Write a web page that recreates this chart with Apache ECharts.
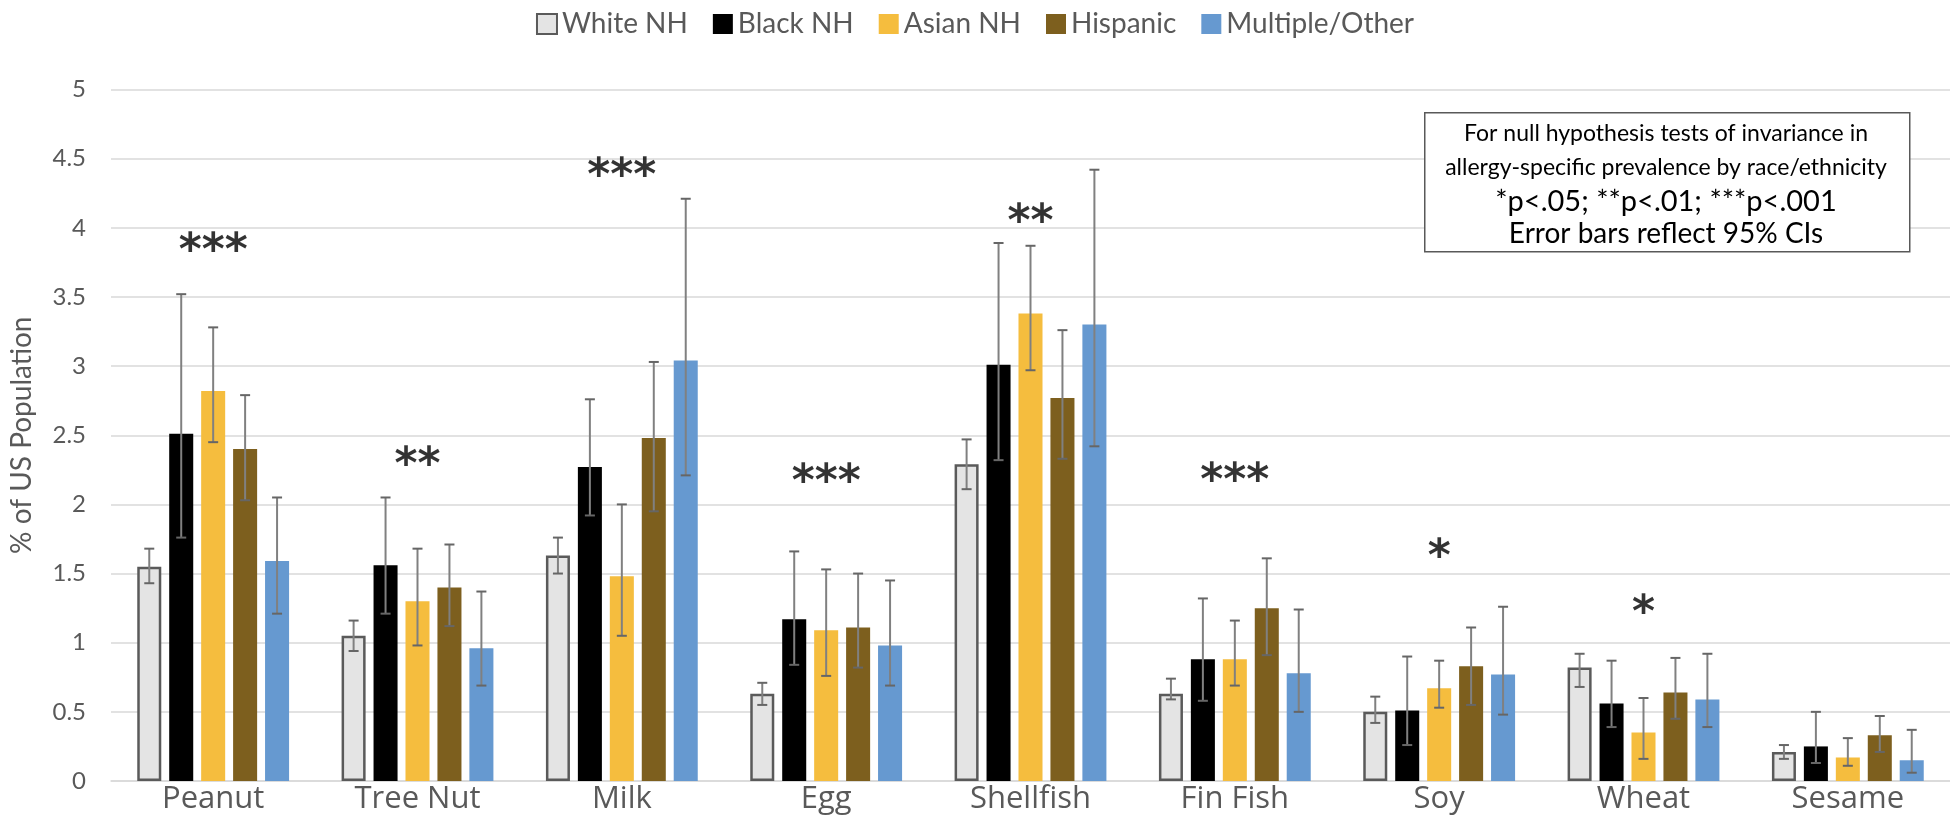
<!DOCTYPE html>
<html>
<head>
<meta charset="utf-8">
<script src="https://cdn.jsdelivr.net/npm/echarts@6/dist/echarts.min.js"></script>
<style>
html,body{margin:0;padding:0;background:#fff;overflow:hidden;}
#chart{width:1950px;height:819px;}
</style>
</head>
<body>
<div id="chart"></div>
<script>
const categories = ['Peanut','Tree Nut','Milk','Egg','Shellfish','Fin Fish','Soy','Wheat','Sesame'];
const groups = ['White NH','Black NH','Asian NH','Hispanic','Multiple/Other'];

const whiteNH  = [1.55, 1.05, 1.63, 0.63, 2.29, 0.63, 0.50, 0.82, 0.21];
const blackNH  = [2.51, 1.56, 2.27, 1.17, 3.01, 0.88, 0.51, 0.56, 0.25];
const asianNH  = [2.82, 1.30, 1.48, 1.09, 3.38, 0.88, 0.67, 0.35, 0.17];
const hispanic = [2.40, 1.40, 2.48, 1.11, 2.77, 1.25, 0.83, 0.64, 0.33];
const multiple = [1.59, 0.96, 3.04, 0.98, 3.30, 0.78, 0.77, 0.59, 0.15];

const whiteLow  = [1.43, 0.94, 1.50, 0.55, 2.11, 0.59, 0.42, 0.68, 0.16];
const whiteHigh = [1.68, 1.16, 1.76, 0.71, 2.47, 0.74, 0.61, 0.92, 0.26];
const blackLow  = [1.76, 1.21, 1.92, 0.84, 2.32, 0.58, 0.26, 0.39, 0.13];
const blackHigh = [3.52, 2.05, 2.76, 1.66, 3.89, 1.32, 0.90, 0.87, 0.50];
const asianLow  = [2.45, 0.98, 1.05, 0.76, 2.97, 0.69, 0.53, 0.16, 0.11];
const asianHigh = [3.28, 1.68, 2.00, 1.53, 3.87, 1.16, 0.87, 0.60, 0.31];
const hispLow   = [2.03, 1.12, 1.95, 0.82, 2.33, 0.91, 0.55, 0.45, 0.21];
const hispHigh  = [2.79, 1.71, 3.03, 1.50, 3.26, 1.61, 1.11, 0.89, 0.47];
const multLow   = [1.21, 0.69, 2.21, 0.69, 2.42, 0.50, 0.48, 0.39, 0.06];
const multHigh  = [2.05, 1.37, 4.21, 1.45, 4.42, 1.24, 1.26, 0.92, 0.37];

const stars = ['***','**','***','***','**','***','*','*',''];
const starY = [3.82, 2.27, 4.36, 2.15, 4.03, 2.16, 1.61, 1.20, 0];

const yTicks = [0, 0.5, 1, 1.5, 2, 2.5, 3, 3.5, 4, 4.5, 5];

const noteLines = [
  'For null hypothesis tests of invariance in',
  'allergy-specific prevalence by race/ethnicity',
  '*p<.05; **p<.01; ***p<.001',
  'Error bars reflect 95% CIs'
];

const values = [whiteNH, blackNH, asianNH, hispanic, multiple];
const lows = [whiteLow, blackLow, asianLow, hispLow, multLow];
const highs = [whiteHigh, blackHigh, asianHigh, hispHigh, multHigh];
const colors = ['#e4e4e4', '#000000', '#f5bd3e', '#7d5f1e', '#6699d0'];

const CAT_GAP = 0.257, BAR_GAP = 0.33, N = groups.length;
const FONT = 'Lato, "Open Sans", sans-serif';

const series = [];
groups.forEach((g, k) => {
  series.push({
    name: g,
    type: 'bar',
    data: values[k],
    barCategoryGap: (CAT_GAP * 100) + '%',
    barGap: (BAR_GAP * 100) + '%',
    itemStyle: k === 0 ? {color: colors[0], borderColor: '#5a5a5a', borderWidth: 2.5} : {color: colors[k]},
    z: 2
  });
});
groups.forEach((g, k) => {
  series.push({
    type: 'custom',
    name: g + ' CI',
    data: categories.map((c, i) => [i, lows[k][i], highs[k][i]]),
    z: 5,
    silent: true,
    renderItem: function (params, api) {
      const ci = api.value(0);
      const lo = api.coord([ci, api.value(1)]);
      const hi = api.coord([ci, api.value(2)]);
      const band = api.size([1, 0])[0];
      const w = band * (1 - CAT_GAP) / (N + (N - 1) * BAR_GAP);
      const groupW = N * w + (N - 1) * BAR_GAP * w;
      const x = lo[0] - groupW / 2 + k * w * (1 + BAR_GAP) + w / 2;
      const cap = 5;
      const st = {stroke: '#808080', lineWidth: 2};
      const cs = {stroke: '#666666', lineWidth: 2};
      return {
        type: 'group',
        children: [
          {type: 'line', shape: {x1: x, y1: lo[1], x2: x, y2: hi[1]}, style: st},
          {type: 'line', shape: {x1: x - cap, y1: lo[1], x2: x + cap, y2: lo[1]}, style: cs},
          {type: 'line', shape: {x1: x - cap, y1: hi[1], x2: x + cap, y2: hi[1]}, style: cs}
        ]
      };
    }
  });
});
series.push({
  type: 'scatter',
  name: 'sig',
  symbolSize: 0,
  silent: true,
  z: 6,
  data: categories.map((c, i) => ({value: [i, starY[i]], label: {formatter: stars[i]}})).filter((d, i) => stars[i] !== ''),
  label: {
    show: true,
    position: 'inside',
    color: '#000',
    fontSize: 44,
    fontWeight: 'bold',
    fontFamily: '"DejaVu Sans", sans-serif'
  }
});

const chart = echarts.init(document.getElementById('chart'), null, {renderer: 'canvas'});
chart.setOption({
  animation: false,
  backgroundColor: '#ffffff',
  legend: {
    data: groups,
    top: 5,
    left: 'center',
    icon: 'rect',
    itemWidth: 20,
    itemHeight: 20,
    itemGap: 25,
    textStyle: {fontSize: 28, color: '#595959', fontFamily: FONT}
  },
  grid: {left: 110, width: 1854, top: 89.5, bottom: 38},
  xAxis: {
    type: 'category',
    data: categories,
    axisTick: {show: false},
    axisLine: {lineStyle: {color: '#d9d9d9', width: 1.5}},
    axisLabel: {fontSize: 31, color: '#595959', margin: 3, fontFamily: '"Open Sans", Lato, sans-serif'}
  },
  yAxis: {
    type: 'value',
    min: yTicks[0],
    max: yTicks[yTicks.length - 1],
    interval: yTicks[1] - yTicks[0],
    name: '% of US Population',
    nameLocation: 'middle',
    nameGap: 75,
    nameTextStyle: {fontSize: 28, color: '#595959', fontFamily: FONT},
    axisLine: {show: false},
    axisTick: {show: false},
    axisLabel: {fontSize: 24, color: '#595959', margin: 25, fontFamily: FONT},
    splitLine: {lineStyle: {color: '#d9d9d9', width: 1.5}}
  },
  graphic: [
    {type: 'rect', left: 1424, top: 112, shape: {width: 485, height: 139}, style: {fill: '#fff', stroke: '#595959', lineWidth: 1.5}, z: 10},
    {type: 'text', x: 1666, y: 134, style: {text: noteLines[0], fontSize: 23, fill: '#000', fontFamily: FONT, textAlign: 'center', textVerticalAlign: 'middle'}, z: 11},
    {type: 'text', x: 1666, y: 168, style: {text: noteLines[1], fontSize: 23, fill: '#000', fontFamily: FONT, textAlign: 'center', textVerticalAlign: 'middle'}, z: 11},
    {type: 'text', x: 1666, y: 202, style: {text: noteLines[2], fontSize: 29, fill: '#000', fontFamily: FONT, textAlign: 'center', textVerticalAlign: 'middle'}, z: 11},
    {type: 'text', x: 1666, y: 234, style: {text: noteLines[3], fontSize: 28, fill: '#000', fontFamily: FONT, textAlign: 'center', textVerticalAlign: 'middle'}, z: 11}
  ],
  series: series
});
</script>
</body>
</html>
